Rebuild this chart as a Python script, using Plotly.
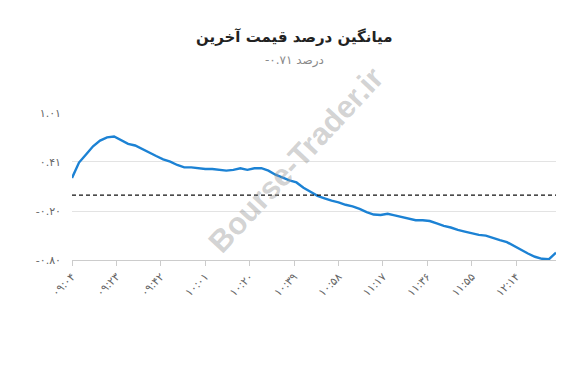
import plotly.graph_objects as go

# ---- data ----
times = ["09:04", "09:07", "09:10", "09:13", "09:16", "09:19", "09:22", "09:25", "09:28", "09:31",
         "09:34", "09:37", "09:40", "09:43", "09:46", "09:49", "09:52", "09:55", "09:58", "10:01",
         "10:04", "10:07", "10:10", "10:13", "10:16", "10:19", "10:22", "10:25", "10:28", "10:31",
         "10:34", "10:37", "10:40", "10:43", "10:46", "10:49", "10:52", "10:55", "10:58", "11:01",
         "11:04", "11:07", "11:10", "11:13", "11:16", "11:19", "11:22", "11:25", "11:28", "11:31",
         "11:34", "11:37", "11:40", "11:43", "11:46", "11:49", "11:52", "11:55", "11:58", "12:01",
         "12:04", "12:07", "12:10", "12:13", "12:16", "12:19", "12:22", "12:25", "12:28", "12:31"]
values = [0.21, 0.40, 0.50, 0.60, 0.67, 0.71, 0.72, 0.68, 0.63, 0.61,
          0.57, 0.52, 0.48, 0.44, 0.41, 0.37, 0.34, 0.34, 0.33, 0.32,
          0.32, 0.31, 0.30, 0.31, 0.33, 0.31, 0.33, 0.33, 0.30, 0.25,
          0.21, 0.18, 0.155, 0.09, 0.04, -0.01, -0.04, -0.07, -0.09, -0.12,
          -0.14, -0.17, -0.21, -0.24, -0.245, -0.23, -0.25, -0.27, -0.29, -0.31,
          -0.31, -0.32, -0.35, -0.38, -0.40, -0.43, -0.45, -0.47, -0.49, -0.50,
          -0.53, -0.555, -0.58, -0.63, -0.68, -0.72, -0.76, -0.785, -0.79, -0.71]
x_tick_times = ["09:04", "09:23", "09:42", "10:01", "10:20", "10:39", "10:58",
                "11:17", "11:36", "11:55", "12:14"]
y_tick_vals = [1.01, 0.41, -0.20, -0.80]
y_range = [-0.80, 1.01]
reference_value = 0.0
last_value = -0.71
title_text = "میانگین درصد قیمت آخرین"
unit_text = "درصد"
watermark_text = "Bourse-Trader.ir"

FA = str.maketrans("0123456789", "۰۱۲۳۴۵۶۷۸۹")


def fa(s):
    return s.translate(FA)


def to_min(t):
    h, m = t.split(":")
    return int(h) * 60 + int(m)


xs = [to_min(t) for t in times]
FONT = "DejaVu Sans, Noto Sans, sans-serif"

fig = go.Figure()
fig.add_trace(go.Scatter(
    x=xs, y=values, mode="lines",
    line=dict(color="#1c82d4", width=2.4),
    hoverinfo="skip", showlegend=False,
))
fig.add_hline(y=reference_value, line=dict(color="#111111", width=1.3, dash="4px,3px"))

fig.update_layout(
    width=580, height=357,
    margin=dict(l=64, r=32, t=105, b=105),
    paper_bgcolor="white", plot_bgcolor="white",
    font=dict(family=FONT, size=11, color="#666666"),
    showlegend=False,
    xaxis=dict(
        range=[xs[0], xs[-1]],
        tickvals=[to_min(t) for t in x_tick_times],
        ticktext=[fa(t) for t in x_tick_times],
        tickangle=-45,
        ticks="outside", ticklen=5, tickcolor="#cccccc",
        showline=True, linecolor="#cccccc", linewidth=1,
        showgrid=False, zeroline=False,
        tickfont=dict(size=11, color="#666666"),
    ),
    yaxis=dict(
        range=y_range,
        tickvals=y_tick_vals,
        ticktext=[fa(f"{v:.2f}") for v in y_tick_vals],
        ticks="", showline=False,
        showgrid=True, gridcolor="#e3e3e3", gridwidth=1,
        zeroline=False,
        ticklabelstandoff=10,
        tickfont=dict(size=11, color="#666666"),
    ),
)

fig.add_annotation(
    text="<b>" + title_text + "</b>", xref="paper", yref="paper",
    x=0.4587, y=1.517, xanchor="center", yanchor="middle", showarrow=False,
    font=dict(family=FONT, size=15, color="#222222"),
)
fig.add_annotation(
    text=fa(f"{last_value:.2f}") + " " + unit_text, xref="paper", yref="paper",
    x=0.4587, y=1.36, xanchor="center", yanchor="middle", showarrow=False,
    font=dict(family=FONT, size=12, color="#8a8a8a"),
)
fig.add_annotation(
    text="<b>" + watermark_text + "</b>", xref="paper", yref="paper",
    x=0.461, y=0.68, xanchor="center", yanchor="middle", showarrow=False, textangle=-47,
    font=dict(family="Liberation Sans, Arial, sans-serif", size=31, color="rgba(150,150,150,0.42)"),
)

fig.write_html("out.html")
